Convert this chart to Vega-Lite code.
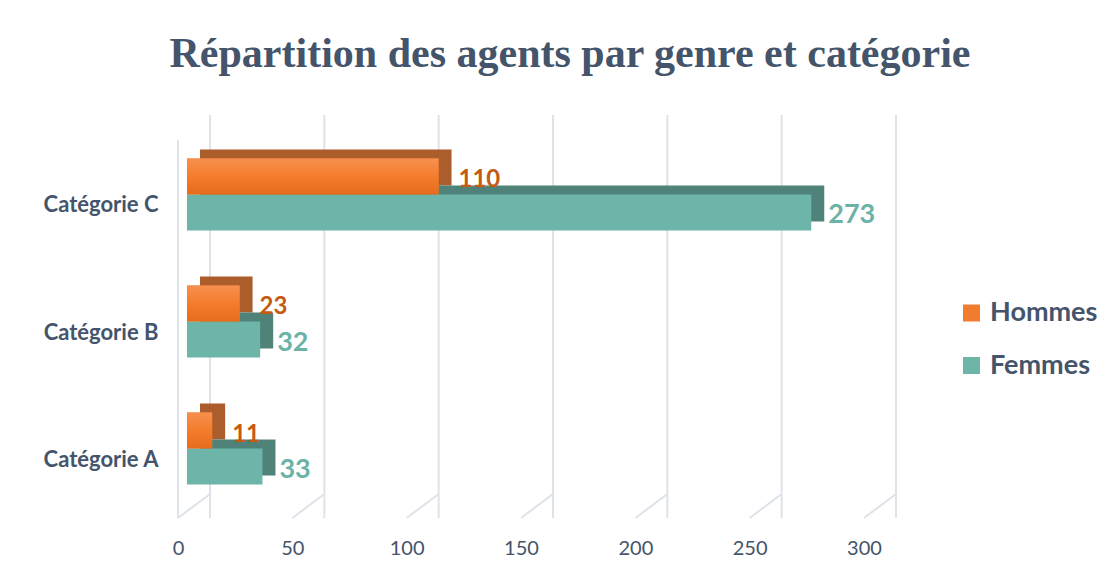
{
  "$schema": "https://vega.github.io/schema/vega-lite/v6.json",
  "width": 686,
  "height": 403,
  "autosize": {"type": "none"},
  "padding": {"left": 178, "top": 115, "right": 256, "bottom": 58},
  "background": "white",
  "title": {
    "text": "Répartition des agents par genre et catégorie",
    "font": "Liberation Serif",
    "fontSize": 42,
    "fontWeight": "bold",
    "color": "#44546A",
    "anchor": "middle",
    "frame": "group",
    "dx": 49,
    "offset": 38
  },
  "config": {
    "view": {"stroke": null},
    "font": "Lato",
    "axisX": {"domain": false, "ticks": false, "grid": false, "title": null, "labelFont": "Lato", "labelFontSize": 20, "labelColor": "#44546A", "labelPadding": 20, "labelFlush": false},
    "axisY": {"domain": false, "ticks": false, "grid": false, "title": null, "labelFont": "Lato", "labelFontSize": 22, "labelFontWeight": "bold", "labelColor": "#44546A", "labelPadding": 20, "labelOffset": 11}
  },
  "datasets": {
    "bars": [
      {"categorie": "Catégorie C", "genre": "Hommes", "valeur": 110},
      {"categorie": "Catégorie C", "genre": "Femmes", "valeur": 273},
      {"categorie": "Catégorie B", "genre": "Hommes", "valeur": 23},
      {"categorie": "Catégorie B", "genre": "Femmes", "valeur": 32},
      {"categorie": "Catégorie A", "genre": "Hommes", "valeur": 11},
      {"categorie": "Catégorie A", "genre": "Femmes", "valeur": 33}
    ],
    "grid": [{"v": 0}, {"v": 50}, {"v": 100}, {"v": 150}, {"v": 200}, {"v": 250}, {"v": 300}]
  },
  "resolve": {"scale": {"yOffset": "independent"}},
  "layer": [
    {
      "data": {"name": "grid"},
      "mark": {"type": "rule", "color": "#DEE3EA", "strokeWidth": 2, "xOffset": 32, "y2Offset": -24},
      "encoding": {
        "x": {"field": "v", "type": "quantitative"}
      }
    },
    {
      "data": {"name": "grid"},
      "mark": {"type": "rule", "color": "#DEE3EA", "strokeWidth": 2, "xOffset": 32, "x2Offset": 0, "yOffset": -24, "y2Offset": 0},
      "encoding": {
        "x": {"field": "v", "type": "quantitative"},
        "x2": {"field": "v"},
        "y": {"value": "height"},
        "y2": {"value": "height"}
      }
    },
    {
      "data": {"values": [{"v": 0}]},
      "mark": {"type": "rule", "color": "#DEE3EA", "strokeWidth": 2, "yOffset": 25},
      "encoding": {
        "x": {"field": "v", "type": "quantitative"}
      }
    },
    {
      "data": {"name": "bars"},
      "mark": {"type": "bar", "xOffset": 22, "x2Offset": 22},
      "encoding": {
        "y": {"field": "categorie", "type": "nominal", "sort": ["Catégorie C", "Catégorie B", "Catégorie A"]},
        "yOffset": {"field": "genre", "type": "nominal", "sort": ["Hommes", "Femmes"], "scale": {"range": [-9, 63], "paddingInner": 0, "paddingOuter": 0}},
        "x": {"field": "valeur", "type": "quantitative"},
        "fill": {"condition": {"test": "datum.genre === 'Hommes'", "value": "#AC5D2C"}, "value": "#4F8279"}
      }
    },
    {
      "data": {"name": "bars"},
      "mark": {"type": "bar", "xOffset": 9, "x2Offset": 9},
      "encoding": {
        "y": {
          "field": "categorie", "type": "nominal",
          "sort": ["Catégorie C", "Catégorie B", "Catégorie A"],
          "scale": {"paddingInner": 0.433, "paddingOuter": 0.303, "align": 0.565}
        },
        "yOffset": {"field": "genre", "type": "nominal", "sort": ["Hommes", "Femmes"], "scale": {"paddingInner": 0, "paddingOuter": 0}},
        "x": {
          "field": "valeur", "type": "quantitative",
          "scale": {"domain": [0, 300], "nice": false},
          "axis": {"values": [0, 50, 100, 150, 200, 250, 300]}
        },
        "color": {
          "field": "genre", "type": "nominal",
          "sort": ["Hommes", "Femmes"],
          "scale": {"domain": ["Hommes", "Femmes"], "range": ["#F17C30", "#6DB5A8"]},
          "legend": {
            "title": null,
            "orient": "none",
            "legendX": 780,
            "legendY": 184.5,
            "symbolType": "square",
            "symbolSize": 289,
            "symbolStrokeWidth": 0,
            "labelFont": "Lato",
            "labelFontSize": 27,
            "labelFontWeight": "bold",
            "labelColor": "#44546A",
            "labelOffset": 5,
            "rowPadding": 24.5
          }
        }
      }
    },
    {
      "data": {"name": "bars"},
      "transform": [{"filter": "datum.genre === 'Hommes'"}],
      "mark": {
        "type": "bar", "xOffset": 9, "x2Offset": 9,
        "fill": {"gradient": "linear", "x1": 0, "y1": 0, "x2": 0, "y2": 1, "stops": [{"offset": 0, "color": "#F6904F"}, {"offset": 0.5, "color": "#F47C2C"}, {"offset": 1, "color": "#E56C1B"}]}
      },
      "encoding": {
        "y": {"field": "categorie", "type": "nominal", "sort": ["Catégorie C", "Catégorie B", "Catégorie A"]},
        "yOffset": {"field": "genre", "type": "nominal", "sort": ["Hommes", "Femmes"], "scale": {"domain": ["Hommes", "Femmes"], "paddingInner": 0, "paddingOuter": 0}},
        "x": {"field": "valeur", "type": "quantitative"}
      }
    },
    {
      "data": {"name": "bars"},
      "transform": [{"filter": "datum.genre === 'Hommes'"}],
      "mark": {"type": "text", "align": "left", "baseline": "middle", "dx": 29, "dy": 4, "font": "Lato", "fontWeight": "bold", "fontSize": 24, "color": "#C55A11"},
      "encoding": {
        "y": {"field": "categorie", "type": "nominal", "sort": ["Catégorie C", "Catégorie B", "Catégorie A"]},
        "yOffset": {"field": "genre", "type": "nominal", "sort": ["Hommes", "Femmes"], "scale": {"type": "point", "domain": ["Hommes", "Femmes"], "padding": 0.5}},
        "x": {"field": "valeur", "type": "quantitative"},
        "text": {"field": "valeur", "type": "quantitative"}
      }
    },
    {
      "data": {"name": "bars"},
      "transform": [{"filter": "datum.genre === 'Femmes'"}],
      "mark": {"type": "text", "align": "left", "baseline": "middle", "dx": 26, "dy": 3, "font": "Lato", "fontWeight": "bold", "fontSize": 27, "color": "#6AB3A6"},
      "encoding": {
        "y": {"field": "categorie", "type": "nominal", "sort": ["Catégorie C", "Catégorie B", "Catégorie A"]},
        "yOffset": {"field": "genre", "type": "nominal", "sort": ["Hommes", "Femmes"], "scale": {"type": "point", "domain": ["Hommes", "Femmes"], "padding": 0.5}},
        "x": {"field": "valeur", "type": "quantitative"},
        "text": {"field": "valeur", "type": "quantitative"}
      }
    }
  ]
}
